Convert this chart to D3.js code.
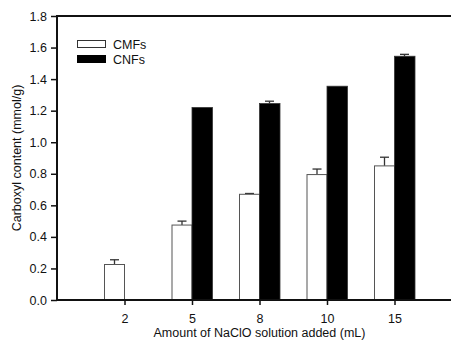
<!DOCTYPE html>
<html>
<head>
<meta charset="utf-8">
<script src="https://cdn.jsdelivr.net/npm/d3@7"></script>
<style>
  body { margin: 0; background: #fff; }
  text { font-family: "Liberation Sans", Arial, sans-serif; font-size: 12.5px; fill: #111; }
</style>
</head>
<body>
<div class="svg-container"></div>
<script>
const categories = ['2', '5', '8', '10', '15'];
const cmfValues = [0.225, 0.475, 0.67, 0.795, 0.85];
const cmfErrors = [0.03, 0.025, 0.005, 0.035, 0.055];
const cnfValues = [null, 1.22, 1.245, 1.355, 1.545];
const cnfErrors = [null, 0, 0.015, 0, 0.012];
const yTicks = [0, 0.2, 0.4, 0.6, 0.8, 1.0, 1.2, 1.4, 1.6, 1.8];

const outerWidth = 451;
const outerHeight = 341;
const margin = { left: 57, top: 16, bottom: 41 };
const barWidth = 20;

const svg = d3.select('.svg-container')
  .append('svg')
  .attr('width', outerWidth)
  .attr('height', outerHeight);

const xScale = d3.scaleLinear()
  .domain([0, categories.length + 1])
  .range([margin.left, 462]);

const yScale = d3.scaleLinear()
  .domain([0, 1.8])
  .range([outerHeight - margin.bottom, margin.top]);

const rows = categories.map((c, i) => ({
  cat: c, idx: i + 1,
  cmf: cmfValues[i], cmfErr: cmfErrors[i],
  cnf: cnfValues[i], cnfErr: cnfErrors[i]
}));

// error bars (drawn before bars so bars cover the lower half)
const errs = [];
rows.forEach(d => {
  errs.push({ x: xScale(d.idx) - barWidth / 2, v: d.cmf, e: d.cmfErr });
  if (d.cnf != null) errs.push({ x: xScale(d.idx) + barWidth / 2, v: d.cnf, e: d.cnfErr });
});
const errG = svg.append('g').attr('stroke', '#333').attr('stroke-width', 1.3);
errs.filter(d => d.e > 0).forEach(d => {
  errG.append('line')
    .attr('x1', d.x).attr('x2', d.x)
    .attr('y1', yScale(d.v)).attr('y2', yScale(d.v + d.e));
  errG.append('line')
    .attr('x1', d.x - 4.5).attr('x2', d.x + 4.5)
    .attr('y1', yScale(d.v + d.e)).attr('y2', yScale(d.v + d.e));
});

// CMF bars
svg.selectAll('rect.cmf')
  .data(rows)
  .enter()
  .append('rect')
  .attr('class', 'cmf')
  .attr('x', d => xScale(d.idx) - barWidth)
  .attr('y', d => yScale(d.cmf))
  .attr('width', barWidth)
  .attr('height', d => yScale(0) - yScale(d.cmf))
  .attr('fill', '#fff')
  .attr('stroke', '#555')
  .attr('stroke-width', 1);

// CNF bars
svg.selectAll('rect.cnf')
  .data(rows.filter(d => d.cnf != null))
  .enter()
  .append('rect')
  .attr('class', 'cnf')
  .attr('x', d => xScale(d.idx))
  .attr('y', d => yScale(d.cnf))
  .attr('width', barWidth + 0.5)
  .attr('height', d => yScale(0) - yScale(d.cnf))
  .attr('fill', '#000')
  .attr('stroke', '#333')
  .attr('stroke-width', 0.8);

// axes
const xAxis = d3.axisBottom(xScale)
  .tickValues(rows.map(d => d.idx))
  .tickFormat(i => categories[i - 1])
  .tickSize(5)
  .tickPadding(9);

const yAxis = d3.axisLeft(yScale)
  .tickValues(yTicks)
  .tickFormat(d3.format('.1f'))
  .tickSize(6)
  .tickPadding(4);

const gx = svg.append('g')
  .attr('transform', `translate(0, ${yScale(0)})`)
  .call(xAxis);
gx.select('.domain').remove();

const gy = svg.append('g')
  .attr('transform', `translate(${margin.left}, 0)`)
  .call(yAxis);
gy.select('.domain').remove();

[gx, gy].forEach(g => {
  g.attr('font-family', null).attr('font-size', null);
  g.selectAll('line').attr('stroke', '#111').attr('stroke-width', 1.5);
  g.selectAll('text').attr('fill', '#111');
});

// frame lines
const frame = svg.append('g').attr('stroke', '#111').attr('stroke-width', 2);
frame.append('line')
  .attr('x1', margin.left).attr('x2', outerWidth)
  .attr('y1', yScale(0)).attr('y2', yScale(0));
frame.append('line')
  .attr('x1', margin.left).attr('x2', outerWidth)
  .attr('y1', yScale(1.8)).attr('y2', yScale(1.8));
frame.append('line')
  .attr('x1', margin.left).attr('x2', margin.left)
  .attr('y1', yScale(0) + 1).attr('y2', yScale(1.8) - 1);

// axis titles
svg.append('text')
  .attr('x', 259.5)
  .attr('y', 337)
  .attr('text-anchor', 'middle')
  .text('Amount of NaClO solution added (mL)');

svg.append('text')
  .attr('transform', 'translate(21, 158) rotate(-90)')
  .attr('text-anchor', 'middle')
  .text('Carboxyl content (mmol/g)');

// legend
const legend = svg.append('g').attr('transform', 'translate(77, 40)');
legend.append('rect')
  .attr('x', 0.5).attr('y', 0.5)
  .attr('width', 28).attr('height', 7)
  .attr('fill', '#fff')
  .attr('stroke', '#333');
legend.append('text')
  .attr('x', 36).attr('y', 8.5)
  .text('CMFs');
legend.append('rect')
  .attr('x', 0).attr('y', 15)
  .attr('width', 29).attr('height', 8)
  .attr('fill', '#000');
legend.append('text')
  .attr('x', 36).attr('y', 23.5)
  .text('CNFs');
</script>
</body>
</html>
